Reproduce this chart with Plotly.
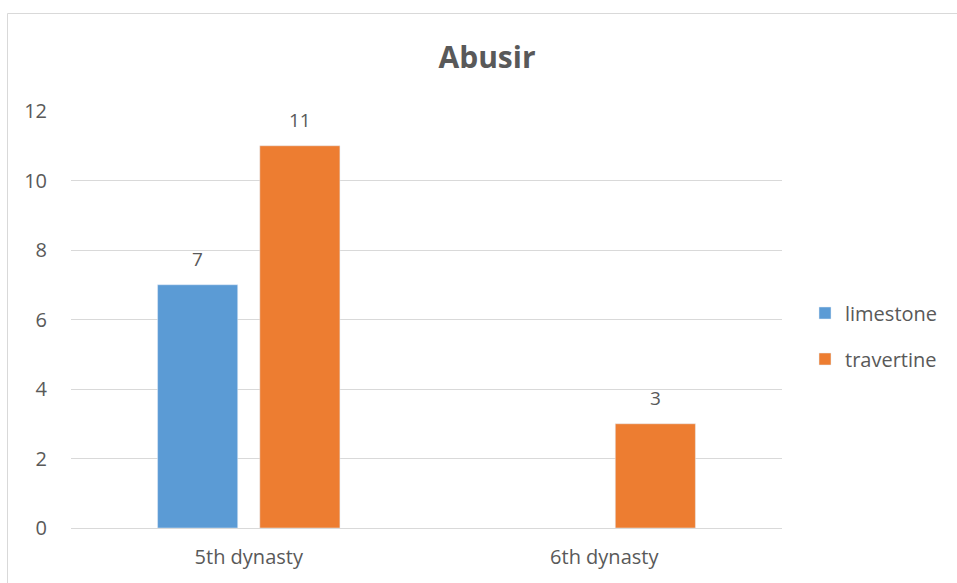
import plotly.graph_objects as go

categories = ["5th dynasty", "6th dynasty"]
limestone = [7, None]
travertine = [11, 3]
y_ticks = [0, 2, 4, 6, 8, 10, 12]

BLUE = "#5B9BD5"
ORANGE = "#ED7D31"
TXT = "#595959"
GRID = "#D9D9D9"
FONT = "Open Sans, Liberation Sans, sans-serif"

W, H = 957, 583
L, R, T, B = 71, 175, 111, 55
pw, ph = W - L - R, H - T - B

fig = go.Figure()
fig.add_trace(go.Bar(name="limestone", x=categories, y=limestone, marker_color=BLUE, legendgroup="a"))
fig.add_trace(go.Bar(name="travertine", x=categories, y=travertine, marker_color=ORANGE, legendgroup="b"))

annotations = []
for off, series in enumerate([limestone, travertine]):
    for i, v in enumerate(series):
        if v is None:
            continue
        annotations.append(dict(
            x=i, y=v, xref="x", yref="y", text=str(v), showarrow=False,
            xshift=(-51 if off == 0 else 51), yshift=26,
            font=dict(size=19, color=TXT, family=FONT)))

def px2paper_x(px):
    return (px - L) / pw

def px2paper_y(py):
    return (H - B - py) / ph

fig.add_shape(type="rect", xref="paper", yref="paper",
              x0=px2paper_x(7.5), x1=px2paper_x(1000), y0=px2paper_y(700), y1=px2paper_y(13.5),
              line=dict(color=GRID, width=1), fillcolor="rgba(0,0,0,0)", layer="below")

fig.update_layout(
    width=W, height=H,
    margin=dict(l=L, r=R, t=T, b=B, pad=0, autoexpand=False),
    paper_bgcolor="white", plot_bgcolor="white",
    barmode="group", bargap=0.425, bargroupgap=0.216,
    title=dict(text="<b>Abusir</b>", x=487 / W, xanchor="center", xref="container",
               y=1 - 57 / H, yanchor="middle", font=dict(size=30, color=TXT, family=FONT)),
    font=dict(family=FONT, color=TXT, size=20),
    legend=dict(x=px2paper_x(805), xanchor="left", y=px2paper_y(336), yanchor="middle",
                font=dict(size=20, color=TXT, family=FONT), tracegroupgap=17,
                itemwidth=30, traceorder="grouped", bgcolor="rgba(0,0,0,0)"),
    annotations=annotations,
    showlegend=True,
)
fig.update_yaxes(range=[0, 12], tickvals=y_ticks, showgrid=True, gridcolor=GRID, gridwidth=1,
                 zeroline=True, zerolinecolor=GRID, zerolinewidth=1, showline=False,
                 ticks="", ticklabelstandoff=23, tickfont=dict(size=20, color=TXT, family=FONT))
fig.update_xaxes(showline=False, ticks="", ticklabelstandoff=15,
                 tickfont=dict(size=20, color=TXT, family=FONT))

fig.write_html("out.html")
